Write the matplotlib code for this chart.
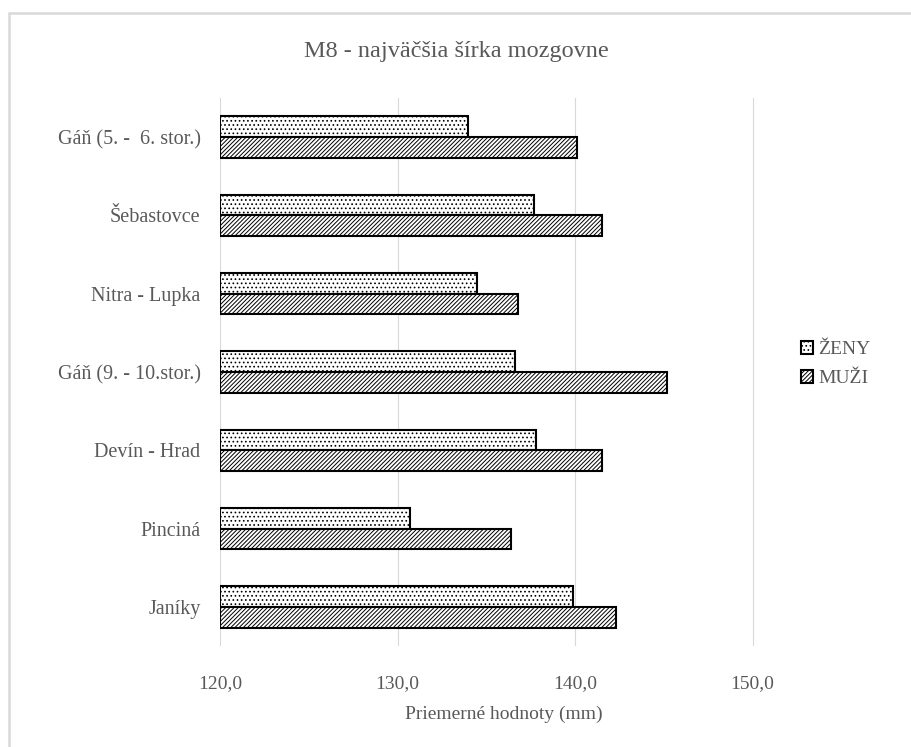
import matplotlib
matplotlib.use('Agg')
import matplotlib.pyplot as plt
from matplotlib.patches import Rectangle, Patch
from matplotlib.ticker import FuncFormatter
import numpy as np

# data: mean values (mm), sites listed bottom -> top
sites = ['Janíky', 'Pinciná', 'Devín - Hrad', 'Gáň (9. - 10.stor.)',
         'Nitra - Lupka', 'Šebastovce', 'Gáň (5. -  6. stor.)']
zeny = [139.9, 130.7, 137.8, 136.6, 134.5, 137.7, 134.0]
muzi = [142.3, 136.4, 141.5, 145.2, 136.8, 141.5, 140.1]
xticks = [120, 130, 140, 150]

txt_color = '#595959'
plt.rcParams['font.family'] = ['Liberation Serif', 'DejaVu Serif']
plt.rcParams['hatch.linewidth'] = 0.7
plt.rcParams['hatch.color'] = 'black'

fig = plt.figure(figsize=(9.12, 7.47), dpi=100)
ax = fig.add_axes([220 / 912, 1 - 646 / 747, 568 / 912, 548 / 747])

# light grey chart border
fig.patches.append(Rectangle((9 / 912, -0.05), 1.0, 1 - 13 / 747 + 0.05,
                             transform=fig.transFigure, fill=False,
                             edgecolor='#d9d9d9', linewidth=1.8))

y = np.arange(len(sites))
h = 0.265
dots, lines = '....', '////////'
ax.barh(y + h / 2, np.array(zeny) - 120, height=h, left=120, color='white',
        edgecolor='black', linewidth=1.5, hatch=dots, label='ŽENY', zorder=3)
ax.barh(y - h / 2, np.array(muzi) - 120, height=h, left=120, color='white',
        edgecolor='black', linewidth=1.5, hatch=lines, label='MUŽI', zorder=3)

ax.set_xlim(120, 152)
ax.set_ylim(-0.5, len(sites) - 0.5)
ax.set_xticks(xticks)
ax.xaxis.set_major_formatter(FuncFormatter(lambda v, p: f'{v:.1f}'.replace('.', ',')))
ax.set_yticks(y)
ax.set_yticklabels(sites, fontsize=14.5)
ax.tick_params(axis='both', length=0, labelcolor=txt_color)
ax.tick_params(axis='x', labelsize=14, pad=21)
ax.tick_params(axis='y', pad=14)
ax.grid(axis='x', color='#d9d9d9', linewidth=0.8, zorder=0)
ax.set_axisbelow(True)
for s in ax.spines.values():
    s.set_visible(False)

ax.set_xlabel('Priemerné hodnoty (mm)', fontsize=14, color=txt_color, labelpad=10)
fig.text(456 / 912, 1 - 52 / 747, 'M8 - najväčšia šírka mozgovne',
         ha='center', va='center', fontsize=17.5, color=txt_color)

handles = [Patch(facecolor='white', edgecolor='black', linewidth=1.5, hatch=dots),
           Patch(facecolor='white', edgecolor='black', linewidth=1.5, hatch=lines)]
leg = fig.legend(handles, ['ŽENY', 'MUŽI'], loc='center left',
                 bbox_to_anchor=(791 / 912, 1 - 364 / 747), frameon=False,
                 handlelength=0.65, handleheight=0.65, handletextpad=0.25,
                 labelspacing=0.6, fontsize=14, borderpad=0)
for t in leg.get_texts():
    t.set_color(txt_color)

fig.savefig('out.png', dpi=100)
